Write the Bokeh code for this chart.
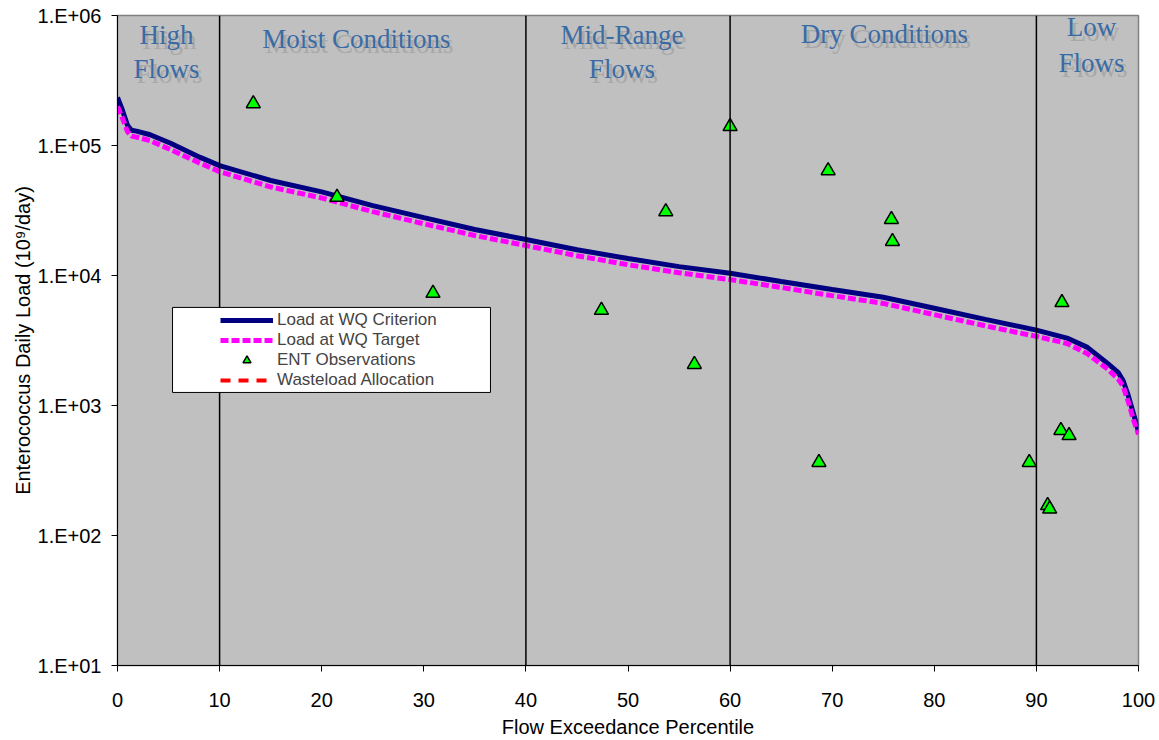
from bokeh.plotting import figure
from bokeh.models import Range1d, FixedTicker, Span, Legend, LegendItem, BoxAnnotation
from bokeh.core.properties import value
from bokeh.embed import file_html
from bokeh.resources import INLINE

# ---------------- data ----------------
pct = [0, 0.49, 0.98, 1.37, 1.86, 3.2, 5.2, 8.1, 10, 15, 20, 25, 30, 35, 40, 45, 50,
       55, 60, 65, 70, 75, 80, 85, 90, 93, 95, 97, 98, 98.5, 99, 99.5, 100]
criterion = [2.34e5, 1.86e5, 1.43e5, 1.31e5, 1.29e5, 1.21e5, 1.04e5, 8.1e4, 7.0e4, 5.38e4,
             4.4e4, 3.45e4, 2.79e4, 2.26e4, 1.89e4, 1.58e4, 1.35e4, 1.17e4, 1.04e4, 9.0e3,
             7.8e3, 6.8e3, 5.6e3, 4.6e3, 3.8e3, 3.3e3, 2.8e3, 2.1e3, 1.8e3, 1.55e3, 1.19e3,
             8.7e2, 6.3e2]
target = [2.0e5, 1.62e5, 1.28e5, 1.18e5, 1.16e5, 1.09e5, 9.3e4, 7.3e4, 6.3e4, 4.8e4,
          3.95e4, 3.1e4, 2.5e4, 2.03e4, 1.7e4, 1.42e4, 1.21e4, 1.05e4, 9.3e3, 8.1e3,
          7.0e3, 6.1e3, 5.0e3, 4.1e3, 3.4e3, 3.0e3, 2.5e3, 1.9e3, 1.6e3, 1.4e3, 1.07e3,
          7.8e2, 6.0e2]
obs_pct = [13.3, 21.5, 30.9, 47.4, 53.7, 56.5, 60.0, 68.7, 69.6, 75.8, 75.9,
           89.3, 91.1, 91.3, 92.4, 92.5, 93.2]
obs_load = [2.1e5, 4.0e4, 7.3e3, 5.4e3, 3.1e4, 2.07e3, 1.4e5, 365, 6.4e4, 2.7e4, 1.83e4,
            365, 170, 160, 643, 6.2e3, 587]
wla_pct = [0, 100]
wla_load = [0, 0]
divider_pct = [10, 40, 60, 90]
zone_text = ["High", "Flows", "Moist Conditions", "Mid-Range", "Flows",
             "Dry Conditions", "Low", "Flows"]
x_ticks = [0, 10, 20, 30, 40, 50, 60, 70, 80, 90, 100]
y_ticks = [1e1, 1e2, 1e3, 1e4, 1e5, 1e6]
y_tick_labels = ["1.E+01", "1.E+02", "1.E+03", "1.E+04", "1.E+05", "1.E+06"]

# ---------------- layout positions ----------------
zone_x = [4.8, 4.8, 23.4, 49.4, 49.4, 75.1, 95.4, 95.4]
zone_y = [10 ** 5.85, 10 ** 5.588, 10 ** 5.819, 10 ** 5.85, 10 ** 5.588,
          10 ** 5.858, 10 ** 5.911, 10 ** 5.634]

p = figure(width=1159, height=740, x_range=Range1d(0, 100), y_range=Range1d(10, 1e6),
           y_axis_type="log", output_backend="svg", toolbar_location=None,
           min_border_left=117, min_border_right=21, min_border_top=15, min_border_bottom=75)

p.background_fill_color = "#C0C0C0"
p.border_fill_color = "white"
p.outline_line_color = "#808080"
p.outline_line_width = 1.5
p.xgrid.grid_line_color = None
p.ygrid.grid_line_color = None

for d in divider_pct:
    p.add_layout(Span(location=d, dimension="height", line_color="black", line_width=1.5))

# zone labels (shadow then text)
p.text(x=zone_x, y=zone_y, text=zone_text, text_font=value("Liberation Serif"),
       text_font_size="27px", text_color="#A8A8A8", text_align="center",
       text_baseline="alphabetic", x_offset=3, y_offset=5)
p.text(x=zone_x, y=zone_y, text=zone_text, text_font=value("Liberation Serif"),
       text_font_size="27px", text_color="#3A6BA5", text_align="center",
       text_baseline="alphabetic")

r_crit = p.line(pct, criterion, line_color="#000080", line_width=5)
r_targ = p.line(pct, target, line_color="#FF00FF", line_width=5, line_dash="8 3")
r_wla = p.line(wla_pct, wla_load, line_color="#FF0000", line_width=4, line_dash="10 8")
r_obs = p.scatter(obs_pct, obs_load, marker="triangle", size=14, fill_color="#00FF00",
                  line_color="black", line_width=1.5)

# legend box
p.add_layout(BoxAnnotation(left=5.39, right=36.53, bottom=1.26e3, top=5.68e3,
                           fill_color="white", fill_alpha=1.0, line_color="black",
                           line_width=1, line_alpha=1.0))
legend = Legend(items=[
    LegendItem(label="Load at WQ Criterion", renderers=[r_crit]),
    LegendItem(label="Load at WQ Target", renderers=[r_targ]),
    LegendItem(label="ENT Observations", renderers=[r_obs]),
    LegendItem(label="Wasteload Allocation", renderers=[r_wla]),
], location=(103, 275), padding=0, spacing=0, margin=0, label_height=20,
    glyph_height=20, glyph_width=53, label_standoff=4,
    background_fill_alpha=0, border_line_alpha=0,
    label_text_font="Liberation Sans", label_text_font_size="17px")
p.add_layout(legend)

# axes
p.xaxis.ticker = FixedTicker(ticks=x_ticks)
p.yaxis.ticker = FixedTicker(ticks=y_ticks)
p.yaxis.major_label_overrides = {float(t): l for t, l in zip(y_ticks, y_tick_labels)}
for ax in (p.xaxis, p.yaxis):
    ax.axis_line_color = "black"
    ax.axis_line_width = 1
    ax.major_tick_in = 0
    ax.major_tick_out = 6
    ax.major_tick_line_color = "black"
    ax.minor_tick_line_color = None
    ax.major_label_text_font = "Liberation Sans"
    ax.major_label_text_font_size = "20px"
    ax.major_label_text_color = "black"
    ax.axis_label_text_font = "Liberation Sans"
    ax.axis_label_text_font_size = "20px"
    ax.axis_label_text_font_style = "normal"
    ax.axis_label_text_color = "black"

p.xaxis.axis_label = "Flow Exceedance Percentile"
p.yaxis.axis_label = "Enterococcus Daily Load (10\u2079/day)"
p.xaxis.major_label_standoff = 21
p.xaxis.axis_label_standoff = 6
p.yaxis.major_label_standoff = 10
p.yaxis.axis_label_standoff = 1

open("out.html", "w").write(file_html(p, INLINE))
